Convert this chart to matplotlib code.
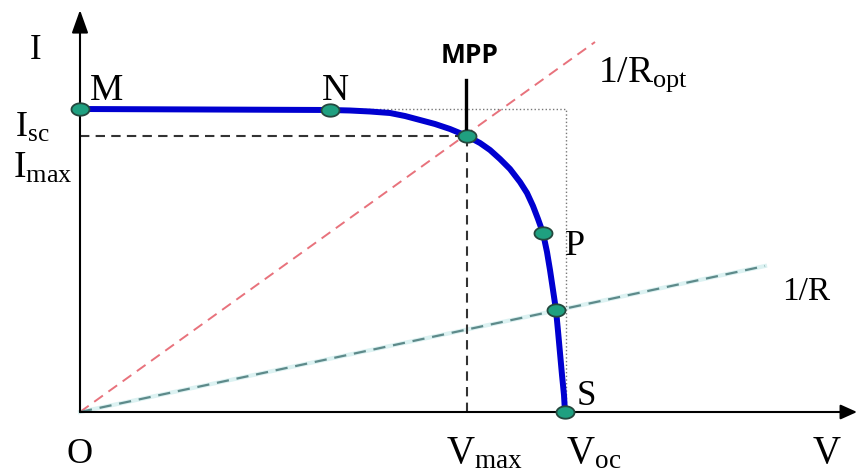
import numpy as np
import matplotlib
matplotlib.use("Agg")
import matplotlib.pyplot as plt
from matplotlib.path import Path

plt.rcParams['font.family'] = ['Liberation Serif', 'DejaVu Serif']
plt.rcParams['mathtext.fontset'] = 'custom'
plt.rcParams['mathtext.rm'] = 'Liberation Serif'
plt.rcParams['mathtext.it'] = 'Liberation Serif:italic'

# I-V curve (units: pixels from the origin)
curve_v = [0, 250, 270, 290, 310, 325, 340, 355, 370, 387, 400, 410, 420, 430,
           440, 447, 453, 458, 463, 467, 470, 473, 476, 478, 480, 482, 484, 485]
curve_i = [303, 302, 301.5, 300.5, 299, 296, 292, 288, 283, 276, 269, 262, 253, 243,
           230, 219, 206, 193, 179, 160, 142, 122, 102, 81, 59, 37, 17, 0]

# marked points M, N, MPP, P, (load point), S
pts_v = [0, 250, 387, 463, 476, 485]
pts_i = [303, 302, 276, 179, 102, 0]

v_mpp, i_mpp = 387, 276
v_oc, i_sc = 486, 303
ropt_end = (515, 370)
r_end = (685, 146)

fig = plt.figure(figsize=(8.57, 4.74), dpi=100)
ax = fig.add_axes([0, 0, 1, 1])
ax.set_xlim(-80, 777)
ax.set_ylim(-62, 412)
ax.axis('off')

# load lines
ax.plot([0, ropt_end[0]], [0, ropt_end[1]], color='#e8727c', lw=1.4,
        dashes=(5.5, 3.5), zorder=2)
ax.plot([0, r_end[0]], [0, r_end[1]], color='#dcf2f2', lw=3.0, zorder=1)
ax.plot([0, r_end[0]], [0, r_end[1]], color='#5d8a8a', lw=1.6,
        dashes=(5.5, 3.5), zorder=2)

# guide lines
ax.plot([0, v_mpp], [i_mpp, i_mpp], color='#333333', lw=1.5, dashes=(4.5, 3), zorder=2)
ax.plot([v_mpp, v_mpp], [0, i_mpp], color='#333333', lw=1.5, dashes=(4.5, 3), zorder=2)
ax.plot([270, v_oc, v_oc], [i_sc, i_sc, 0], color='#777777', lw=1.0, ls=':', zorder=2)

# axes with arrows
ax.annotate('', xy=(0, 402), xytext=(0, 0),
            arrowprops=dict(arrowstyle='-|>,head_length=1.4,head_width=0.5',
                            color='black', lw=1.5, shrinkA=0, shrinkB=0))
ax.annotate('', xy=(777, 0), xytext=(0, 0),
            arrowprops=dict(arrowstyle='-|>,head_length=1.0,head_width=0.45',
                            color='black', lw=1.5, shrinkA=0, shrinkB=0))

# I-V curve
ax.plot(curve_v, curve_i, color='#0000d0', lw=4.3, solid_joinstyle='round',
        solid_capstyle='butt', zorder=3)

# ellipse marker
t = np.linspace(0, 2 * np.pi, 40)
ell = Path(np.column_stack([1.45 * np.cos(t), np.sin(t)]), closed=True)
ax.plot(pts_v, pts_i, ls='none', marker=ell, markersize=13,
        markerfacecolor='#1fa080', markeredgecolor='#24483e', markeredgewidth=1.3,
        zorder=4)

# MPP pointer
ax.plot([v_mpp - 1, v_mpp - 1], [i_mpp + 8, 332], color='black', lw=2.4, zorder=5)
ax.text(390, 349, 'MPP', fontsize=19, fontweight='bold', family=['Open Sans', 'DejaVu Sans'],
        ha='center', va='baseline')

# labels
kw = dict(va='baseline', ha='left')
ax.text(-50, 353, 'I', fontsize=25, **kw)
ax.text(10, 312, 'M', fontsize=27, **kw)
ax.text(242, 312, 'N', fontsize=27, **kw)
ax.text(-65, 275, r'I$_{\mathrm{sc}}$', fontsize=26, **kw)
ax.text(-67, 234, r'I$_{\mathrm{max}}$', fontsize=27, **kw)
ax.text(518, 330, r'1/R$_{\mathrm{opt}}$', fontsize=27, **kw)
ax.text(485, 157, 'P', fontsize=26, **kw)
ax.text(702, 112, '1/R', fontsize=24, **kw)
ax.text(497, 7, 'S', fontsize=25, **kw)
ax.text(-13, -51, 'O', fontsize=26, **kw)
ax.text(366, -51, r'V$_{\mathrm{max}}$', fontsize=28, **kw)
ax.text(486, -51, r'V$_{\mathrm{oc}}$', fontsize=28, **kw)
ax.text(733, -51, 'V', fontsize=28, **kw)

fig.savefig('out.png', dpi=100)
